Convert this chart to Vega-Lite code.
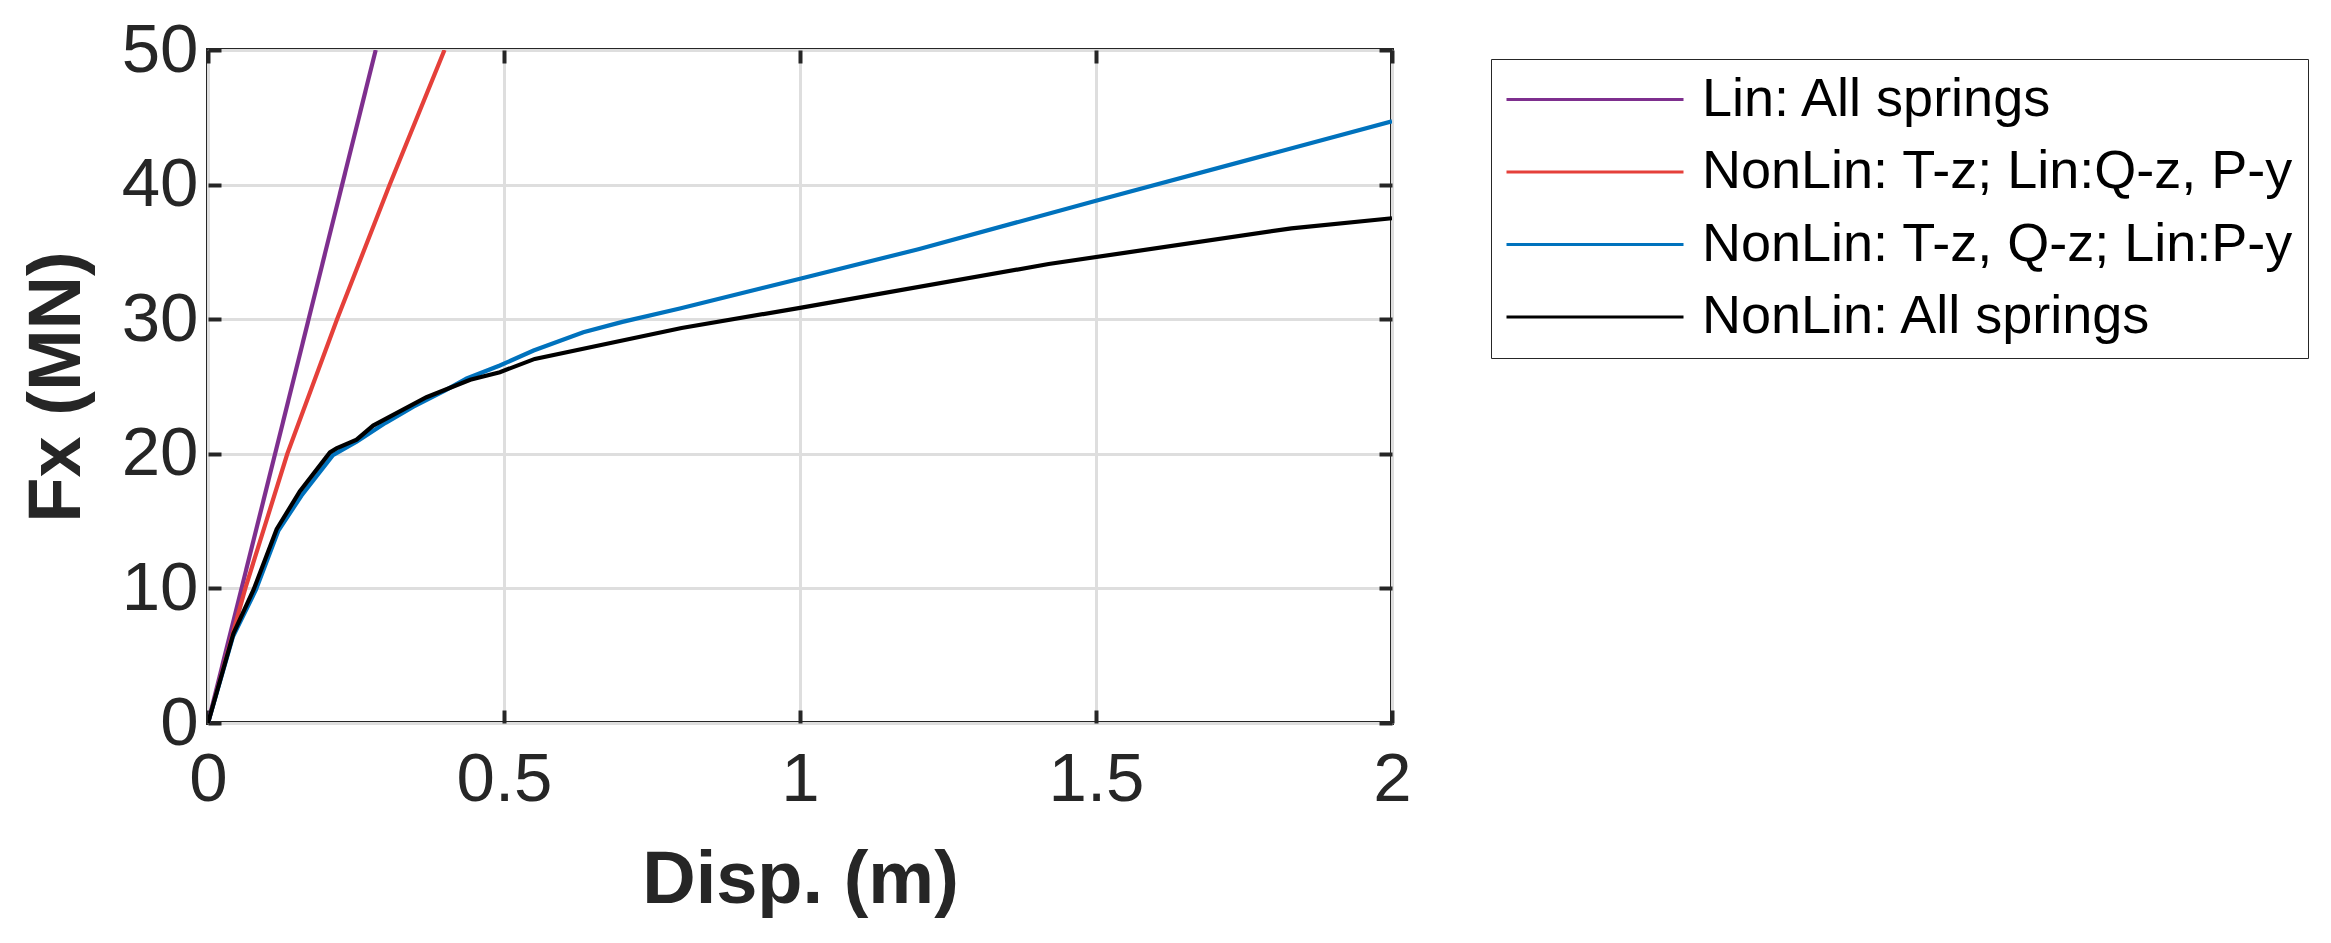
{
  "$schema": "https://vega.github.io/schema/vega-lite/v6.json",
  "width": 1184,
  "height": 673,
  "autosize": {"type": "none"},
  "padding": {"left": 208, "top": 50, "right": 939, "bottom": 220},
  "background": "white",
  "config": {
    "view": {"stroke": "#262626", "strokeWidth": 4},
    "font": "Liberation Sans",
    "axis": {
      "domain": false,
      "grid": true,
      "gridColor": "#dedede",
      "gridWidth": 3,
      "tickColor": "#262626",
      "tickWidth": 4,
      "tickSize": -13,
      "labelFont": "Liberation Sans",
      "labelFontSize": 69,
      "labelColor": "#262626",
      "labelOverlap": false,
      "labelFlush": false,
      "titleFont": "Liberation Sans",
      "titleFontSize": 74,
      "titleFontWeight": "bold",
      "titleColor": "#262626"
    }
  },
  "data": {
    "values": [
      {"series": "Lin: All springs", "x": 0, "y": 0},
      {"series": "Lin: All springs", "x": 0.2833, "y": 50},
      {"series": "NonLin: T-z; Lin:Q-z, P-y", "x": 0, "y": 0},
      {"series": "NonLin: T-z; Lin:Q-z, P-y", "x": 0.063, "y": 10},
      {"series": "NonLin: T-z; Lin:Q-z, P-y", "x": 0.134, "y": 20},
      {"series": "NonLin: T-z; Lin:Q-z, P-y", "x": 0.218, "y": 30},
      {"series": "NonLin: T-z; Lin:Q-z, P-y", "x": 0.307, "y": 40},
      {"series": "NonLin: T-z; Lin:Q-z, P-y", "x": 0.3995, "y": 50},
      {"series": "NonLin: T-z, Q-z; Lin:P-y", "x": 0, "y": 0},
      {"series": "NonLin: T-z, Q-z; Lin:P-y", "x": 0.042, "y": 6.4},
      {"series": "NonLin: T-z, Q-z; Lin:P-y", "x": 0.081, "y": 9.9},
      {"series": "NonLin: T-z, Q-z; Lin:P-y", "x": 0.119, "y": 14.3},
      {"series": "NonLin: T-z, Q-z; Lin:P-y", "x": 0.158, "y": 16.9},
      {"series": "NonLin: T-z, Q-z; Lin:P-y", "x": 0.211, "y": 19.9},
      {"series": "NonLin: T-z, Q-z; Lin:P-y", "x": 0.251, "y": 20.9},
      {"series": "NonLin: T-z, Q-z; Lin:P-y", "x": 0.3, "y": 22.3},
      {"series": "NonLin: T-z, Q-z; Lin:P-y", "x": 0.347, "y": 23.5},
      {"series": "NonLin: T-z, Q-z; Lin:P-y", "x": 0.4, "y": 24.7},
      {"series": "NonLin: T-z, Q-z; Lin:P-y", "x": 0.437, "y": 25.6},
      {"series": "NonLin: T-z, Q-z; Lin:P-y", "x": 0.493, "y": 26.56},
      {"series": "NonLin: T-z, Q-z; Lin:P-y", "x": 0.55, "y": 27.67},
      {"series": "NonLin: T-z, Q-z; Lin:P-y", "x": 0.634, "y": 29.03},
      {"series": "NonLin: T-z, Q-z; Lin:P-y", "x": 0.7, "y": 29.8},
      {"series": "NonLin: T-z, Q-z; Lin:P-y", "x": 0.797, "y": 30.8},
      {"series": "NonLin: T-z, Q-z; Lin:P-y", "x": 1.0, "y": 33.0},
      {"series": "NonLin: T-z, Q-z; Lin:P-y", "x": 1.2, "y": 35.2},
      {"series": "NonLin: T-z, Q-z; Lin:P-y", "x": 1.5, "y": 38.8},
      {"series": "NonLin: T-z, Q-z; Lin:P-y", "x": 2.0, "y": 44.7},
      {"series": "NonLin: All springs", "x": 0, "y": 0},
      {"series": "NonLin: All springs", "x": 0.043, "y": 6.65},
      {"series": "NonLin: All springs", "x": 0.077, "y": 9.9},
      {"series": "NonLin: All springs", "x": 0.116, "y": 14.4},
      {"series": "NonLin: All springs", "x": 0.155, "y": 17.2},
      {"series": "NonLin: All springs", "x": 0.206, "y": 20.1},
      {"series": "NonLin: All springs", "x": 0.217, "y": 20.4},
      {"series": "NonLin: All springs", "x": 0.251, "y": 21.05},
      {"series": "NonLin: All springs", "x": 0.279, "y": 22.1},
      {"series": "NonLin: All springs", "x": 0.369, "y": 24.2},
      {"series": "NonLin: All springs", "x": 0.443, "y": 25.5},
      {"series": "NonLin: All springs", "x": 0.493, "y": 26.06},
      {"series": "NonLin: All springs", "x": 0.552, "y": 27.05},
      {"series": "NonLin: All springs", "x": 0.8, "y": 29.35},
      {"series": "NonLin: All springs", "x": 1.0, "y": 30.84},
      {"series": "NonLin: All springs", "x": 1.42, "y": 34.1},
      {"series": "NonLin: All springs", "x": 1.83, "y": 36.75},
      {"series": "NonLin: All springs", "x": 2.0, "y": 37.5}
    ]
  },
  "layer": [
    {
      "mark": {"type": "line", "strokeWidth": 4.2, "clip": true},
      "encoding": {
        "x": {
          "field": "x", "type": "quantitative",
          "scale": {"domain": [0, 2], "nice": false},
          "axis": {"orient": "bottom", "values": [0, 0.5, 1, 1.5, 2], "format": "~g", "title": "Disp. (m)", "labelPadding": 35, "titlePadding": 30}
        },
        "y": {
          "field": "y", "type": "quantitative",
          "scale": {"domain": [0, 50], "nice": false},
          "axis": {"orient": "left", "values": [0, 10, 20, 30, 40, 50], "title": "Fx (MN)", "labelPadding": 23, "titlePadding": 26}
        },
        "color": {
          "field": "series", "type": "nominal",
          "scale": {
            "domain": ["Lin: All springs", "NonLin: T-z; Lin:Q-z, P-y", "NonLin: T-z, Q-z; Lin:P-y", "NonLin: All springs"],
            "range": ["#7E2F8E", "#E5403A", "#0072BD", "#000000"]
          },
          "legend": {
            "title": null,
            "orient": "none",
            "legendX": 1283,
            "legendY": 9,
            "symbolType": "stroke",
            "symbolSize": 31329,
            "symbolStrokeWidth": 3,
            "clipHeight": 53,
            "rowPadding": 17.5,
            "padding": 14,
            "labelOffset": 17,
            "labelFont": "Liberation Sans",
            "labelFontSize": 54,
            "labelColor": "#000000",
            "labelLimit": 1000,
            "strokeColor": "#262626",
            "fillColor": "white"
          }
        }
      }
    },
    {
      "mark": {"type": "line", "opacity": 0},
      "encoding": {
        "x": {
          "field": "x", "type": "quantitative",
          "axis": {"orient": "top", "values": [0, 0.5, 1, 1.5, 2], "labels": false, "grid": false, "title": null}
        },
        "y": {
          "field": "y", "type": "quantitative",
          "axis": {"orient": "right", "values": [0, 10, 20, 30, 40, 50], "labels": false, "grid": false, "title": null}
        },
        "detail": {"field": "series"}
      }
    }
  ],
  "resolve": {"axis": {"x": "independent", "y": "independent"}}
}
